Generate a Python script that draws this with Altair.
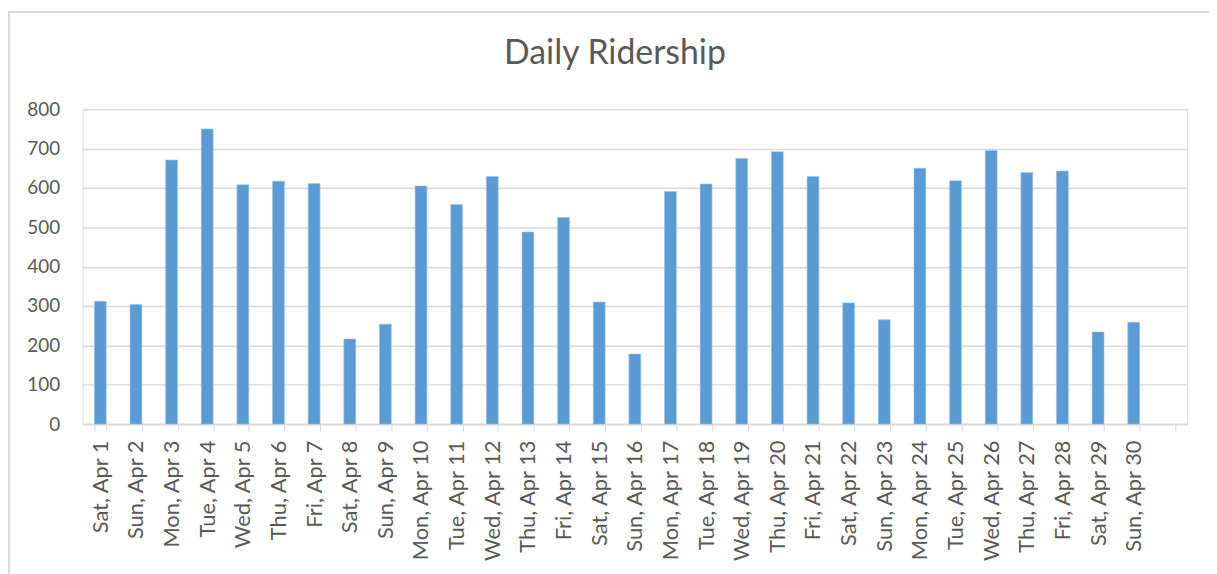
import altair as alt
import pandas as pd

days = ["Sat, Apr 1", "Sun, Apr 2", "Mon, Apr 3", "Tue, Apr 4", "Wed, Apr 5", "Thu, Apr 6",
        "Fri, Apr 7", "Sat, Apr 8", "Sun, Apr 9", "Mon, Apr 10", "Tue, Apr 11", "Wed, Apr 12",
        "Thu, Apr 13", "Fri, Apr 14", "Sat, Apr 15", "Sun, Apr 16", "Mon, Apr 17", "Tue, Apr 18",
        "Wed, Apr 19", "Thu, Apr 20", "Fri, Apr 21", "Sat, Apr 22", "Sun, Apr 23", "Mon, Apr 24",
        "Tue, Apr 25", "Wed, Apr 26", "Thu, Apr 27", "Fri, Apr 28", "Sat, Apr 29", "Sun, Apr 30"]
riders = [312, 304, 671, 750, 608, 617, 611, 216, 254, 605, 558, 629, 488, 525, 310, 178,
          591, 610, 675, 692, 629, 308, 265, 650, 618, 695, 639, 643, 234, 259]
# Excel leaves one empty slot at the end of the category axis
categories = days + [" "]

df = pd.DataFrame({"day": days, "riders": riders})

FONT = "Lato"
TXT = "#595959"
GRID = "#D9D9D9"

xscale = alt.Scale(domain=categories, paddingInner=0.667, paddingOuter=0.3335)

bars = alt.Chart(df).mark_bar(color="#5B9BD5", stroke="#9DC3E6", strokeWidth=0.6).encode(
    x=alt.X("day:N", sort=categories, scale=xscale, title=None,
            axis=alt.Axis(labelAngle=-90, labelFont=FONT, labelFontSize=22, labelColor=TXT,
                          tickBand="extent", tickColor=GRID, tickSize=7, domainColor=GRID,
                          domainWidth=1.5, labelPadding=9, labelAlign="right",
                          labelBaseline="middle", labelOverlap=False)),
    y=alt.Y("riders:Q", scale=alt.Scale(domain=[0, 800]), title=None,
            axis=alt.Axis(values=[0, 100, 200, 300, 400, 500, 600, 700, 800],
                          labelFont=FONT, labelFontSize=19, labelColor=TXT,
                          domain=False, ticks=False, labelPadding=23,
                          gridColor=GRID, gridWidth=1.5)),
)

border = alt.Chart(df).mark_rect(fill=None, stroke=GRID, strokeWidth=1.5).encode(
    x=alt.value(-74), x2=alt.value(1300), y=alt.value(-98), y2=alt.value(700)
)

chart = alt.layer(border, bars).properties(
    width=1112, height=317,
    title=alt.TitleParams("Daily Ridership", font=FONT, fontSize=34, fontWeight="normal",
                          color=TXT, offset=0, dy=87, dx=-20, baseline="alphabetic"),
    autosize=alt.AutoSizeParams(type="none"),
    padding={"left": 75, "top": 100, "right": 22, "bottom": 149},
).configure_view(stroke=None).configure(background="white")

chart.save("out.html", embed_options={"renderer": "svg", "actions": False})
